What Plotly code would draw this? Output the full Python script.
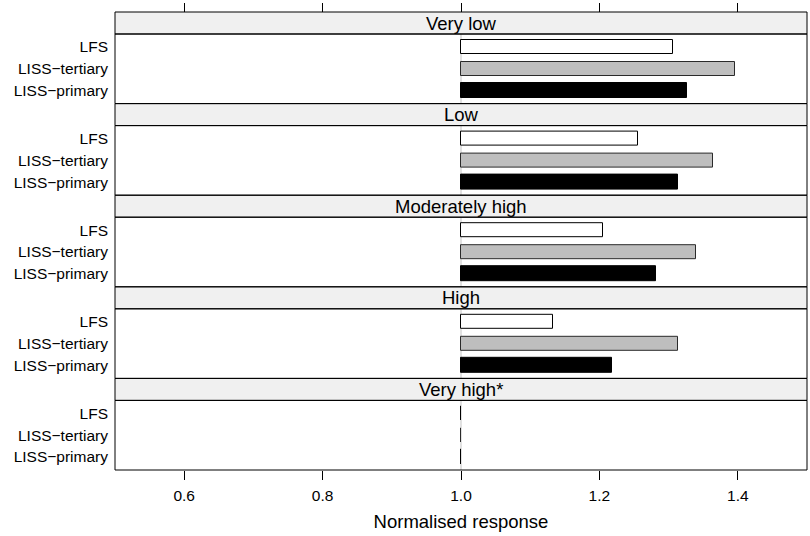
import plotly.graph_objects as go

# ---- data ----
groups = ["Very low", "Low", "Moderately high", "High", "Very high*"]
sources = ["LISS\u2212primary", "LISS\u2212tertiary", "LFS"]  # bottom -> top
lfs = [1.307, 1.256, 1.205, 1.133, 1.0]
liss_tertiary = [1.396, 1.364, 1.339, 1.313, 1.0]
liss_primary = [1.327, 1.313, 1.282, 1.218, 1.0]
x_ticks = [0.6, 0.8, 1.0, 1.2, 1.4]
x_tick_text = ["0.6", "0.8", "1.0", "1.2", "1.4"]
origin = 1.0

# ---- style ----
FONT = "Liberation Sans, Arial, Helvetica, sans-serif"
fill_colors = ["black", "#BEBEBE", "white"]
line_colors = ["black", "#2a2a2a", "black"]
W, H = 810, 536
M_L, M_R, M_T, M_B = 115, 3, 12, 66
plot_h = H - M_T - M_B
n = len(groups)
panel_frac = 1.0 / n
strip_frac = 22.0 / plot_h

fig = go.Figure()
shapes = []
annotations = []
layout_axes = {}

for i, g in enumerate(groups):
    yname = "y" if i == 0 else f"y{i+1}"
    ykey = "yaxis" if i == 0 else f"yaxis{i+1}"
    top = 1.0 - i * panel_frac
    strip_bot = top - strip_frac
    bot = 1.0 - (i + 1) * panel_frac
    vals = [liss_primary[i], liss_tertiary[i], lfs[i]]
    fig.add_trace(go.Bar(
        y=sources, x=[v - origin for v in vals], base=origin,
        orientation="h", width=2 / 3,
        marker=dict(color=fill_colors, line=dict(color=line_colors, width=1)),
        xaxis="x", yaxis=yname, showlegend=False,
    ))
    layout_axes[ykey] = dict(
        domain=[bot, strip_bot], anchor="x", type="category",
        categoryorder="array", categoryarray=sources,
        range=[-0.6, 2.6], showgrid=False, zeroline=False, ticks="",
        showline=False, tickfont=dict(size=15.5, color="black", family=FONT),
        ticklabelstandoff=6, fixedrange=True,
    )
    # reference line at origin
    shapes.append(dict(type="line", xref="x", yref=f"{yname} domain",
                       x0=origin, x1=origin, y0=0, y1=1,
                       line=dict(color="#C4C4C4", width=1), layer="below"))
    # strip
    shapes.append(dict(type="rect", xref="paper", yref="paper",
                       x0=0, x1=1, y0=strip_bot, y1=top,
                       fillcolor="#F0F0F0", line=dict(color="black", width=1),
                       layer="below"))
    # body frame
    shapes.append(dict(type="rect", xref="paper", yref="paper",
                       x0=0, x1=1, y0=bot, y1=strip_bot,
                       fillcolor="rgba(0,0,0,0)", line=dict(color="black", width=1),
                       layer="above"))
    annotations.append(dict(text=g, xref="paper", yref="paper", x=0.5,
                            y=(top + strip_bot) / 2, xanchor="center",
                            yanchor="middle", showarrow=False,
                            font=dict(size=18.5, color="black", family=FONT)))

# dummy trace for top axis
fig.add_trace(go.Scatter(x=[None], y=[None], xaxis="x2", yaxis="y",
                         showlegend=False, hoverinfo="skip"))

xrange = [0.5, 1.5]
fig.update_layout(
    width=W, height=H,
    margin=dict(l=M_L, r=M_R, t=M_T, b=M_B),
    paper_bgcolor="white", plot_bgcolor="white",
    font=dict(family=FONT, color="black"),
    xaxis=dict(range=xrange, anchor=f"y{n}", tickvals=x_ticks, ticktext=x_tick_text,
               ticks="outside", ticklen=9, tickcolor="black", tickwidth=1,
               showgrid=False, zeroline=False, showline=False,
               tickfont=dict(size=15.5, color="black", family=FONT),
               ticklabelstandoff=2,
               title=dict(text="Normalised response",
                          font=dict(size=18.5, color="black", family=FONT),
                          standoff=12),
               fixedrange=True),
    xaxis2=dict(range=xrange, overlaying="x", anchor="free", position=1.0,
                side="top", tickvals=x_ticks, ticks="outside", ticklen=9,
                tickcolor="black", tickwidth=1, showticklabels=False,
                showgrid=False, zeroline=False, showline=False, fixedrange=True),
    shapes=shapes, annotations=annotations, bargap=0,
    **layout_axes,
)

fig.write_html("out.html")
